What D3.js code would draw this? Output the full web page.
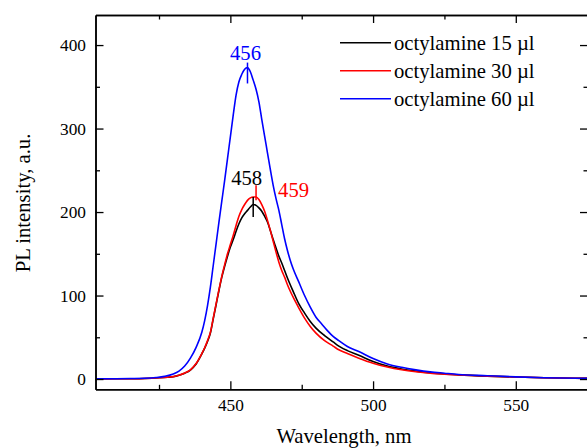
<!DOCTYPE html>
<html>
<head>
<meta charset="utf-8">
<script src="https://cdn.jsdelivr.net/npm/d3@7"></script>
<style>
  html, body { margin: 0; padding: 0; background: #fff; }
  svg { display: block; }
  text { font-family: "Liberation Serif", "Times New Roman", serif; }
</style>
</head>
<body>
<svg id="chart" width="587" height="448"></svg>
<script>
// PL spectra: wavelength (nm) and intensity (a.u.) for each octylamine volume
const wl15 = [403, 410, 415, 420, 425, 428, 430, 432, 434, 436, 438, 440, 441, 442, 443, 444, 445, 446, 447, 448, 449, 450, 451, 452, 453, 454, 455, 456, 457, 458, 459, 460, 461, 462, 463, 464, 465, 466, 467, 468, 469, 470, 472, 474, 476, 478, 480, 483, 486, 488, 491, 495, 500, 505, 510, 515, 520, 525, 530, 540, 550, 560, 575.3];
const pl15 = [0.2, 0.3, 0.4, 0.7, 1.5, 2.2, 2.8, 4.5, 7, 10.8, 18, 30, 37, 45, 55, 72, 89, 106, 122, 135, 147, 158, 167, 177, 186, 193, 198, 202, 206, 209, 208, 205, 201, 195, 188, 178, 167, 157, 147, 139, 130, 121, 105, 90, 79, 69, 61, 52, 44.5, 39.5, 34, 28.5, 21, 15.5, 12, 9.5, 7.5, 6, 5, 3.5, 2.4, 1.6, 0.8];

const wl30 = [403, 410, 415, 420, 425, 428, 430, 432, 434, 436, 438, 440, 441, 442, 443, 444, 445, 446, 447, 448, 449, 450, 451, 452, 453, 454, 455, 456, 457, 458, 459, 460, 461, 462, 463, 464, 465, 466, 467, 468, 469, 470, 472, 474, 476, 478, 480, 483, 486, 488, 491, 495, 500, 505, 510, 515, 520, 525, 530, 540, 550, 560, 575.3];
const pl30 = [0.2, 0.3, 0.4, 0.7, 1.5, 2.2, 2.9, 4.6, 7.2, 11, 18.5, 30.5, 37.5, 46, 56, 73, 90, 107, 123, 137, 150, 161, 172, 184, 195, 203, 209, 214, 217, 218, 218, 215, 209, 201, 190, 178, 165, 152, 140, 130, 122, 113, 98, 85, 73, 63, 55, 46, 39.5, 35, 30.5, 25, 19, 14.5, 11.2, 8.8, 7, 5.8, 4.8, 3.4, 2.4, 1.6, 0.8];

const wl60 = [403, 410, 415, 420, 424, 427, 430, 432, 434, 436, 438, 440, 441, 442, 443, 444, 445, 446, 447, 448, 449, 450, 451, 452, 453, 454, 455, 456, 457, 458, 459, 460, 461, 462, 463, 464, 465, 466, 467, 468, 469, 470, 471, 472, 474, 476, 478, 480, 482, 484, 486, 488, 491, 495, 500, 505, 510, 515, 520, 525, 530, 540, 550, 560, 575.3];
const pl60 = [0.3, 0.4, 0.6, 0.9, 1.8, 3.2, 6, 9.5, 15.5, 25, 38, 56, 70, 88, 110, 136, 162, 188, 213, 238, 264, 290, 316, 340, 356, 365, 371, 373, 368, 358, 347, 332, 311, 291, 271, 251, 232, 216, 202, 185, 168, 154, 142, 132, 116, 100, 86, 74, 66, 58, 51, 46, 39, 33, 24.5, 18, 14, 11, 8.6, 7, 5.5, 4, 2.6, 1.6, 0.8];

const seriesNames = ["octylamine 15 \u00b5l", "octylamine 30 \u00b5l", "octylamine 60 \u00b5l"];
const seriesColors = ["#000000", "#ff0000", "#0000ff"];

// Peak positions (nm) with their intensities
const peakWl = [458, 459, 456];
const peakPl = [209, 218, 373];
const peakLabels = ["458", "459", "456"];

// Axis ticks
const xMajor = [450, 500, 550];
const xMinor = [425, 475, 525, 575];
const yMajor = [0, 100, 200, 300, 400];
const yMinor = [50, 150, 250, 350];

const svg = d3.select("#chart");
const plotLeft = 95.5, plotRight = 588, plotTop = 15, plotBottom = 389.3;
const tickFont = 17.3, labelFont = 20.7;

const x = d3.scaleLinear().domain([402.75, 575.3]).range([plotLeft, plotRight]);
const y = d3.scaleLinear().domain([-12.3, 436]).range([plotBottom, plotTop]);

svg.append("defs").append("clipPath").attr("id", "plotclip")
  .append("rect").attr("x", plotLeft).attr("y", plotTop)
  .attr("width", plotRight - plotLeft).attr("height", plotBottom - plotTop);

const series = [
  { wl: wl15, pl: pl15 },
  { wl: wl30, pl: pl30 },
  { wl: wl60, pl: pl60 }
];

const line = d3.line()
  .x(d => x(d[0]))
  .y(d => y(d[1]))
  .curve(d3.curveMonotoneX);

const plot = svg.append("g").attr("clip-path", "url(#plotclip)");
series.forEach((s, i) => {
  plot.append("path")
    .datum(s.wl.map((w, k) => [w, s.pl[k]]))
    .attr("fill", "none")
    .attr("stroke", seriesColors[i])
    .attr("stroke-width", 1.6)
    .attr("stroke-linejoin", "round")
    .attr("d", line);
});

// Frame axes with inward ticks
function axisStyle(g) {
  g.select(".domain").attr("stroke", "#000").attr("stroke-width", 1.5);
  g.selectAll(".tick line").attr("stroke", "#000").attr("stroke-width", 1.3);
  g.selectAll(".tick text").attr("font-size", tickFont).attr("font-family", "Liberation Serif").attr("fill", "#000");
}

const fmt = d3.format("d");
// bottom
svg.append("g").attr("transform", `translate(0,${plotBottom})`)
  .call(d3.axisBottom(x).tickValues(xMajor).tickSizeInner(-8).tickSizeOuter(0).tickPadding(9).tickFormat(fmt))
  .call(axisStyle);
svg.append("g").attr("transform", `translate(0,${plotBottom})`)
  .call(d3.axisBottom(x).tickValues(xMinor).tickSizeInner(-4.5).tickSizeOuter(0).tickFormat(""))
  .call(axisStyle);
// top
svg.append("g").attr("transform", `translate(0,${plotTop})`)
  .call(d3.axisTop(x).tickValues(xMajor).tickSizeInner(-8).tickSizeOuter(0).tickFormat(""))
  .call(axisStyle);
svg.append("g").attr("transform", `translate(0,${plotTop})`)
  .call(d3.axisTop(x).tickValues(xMinor).tickSizeInner(-4.5).tickSizeOuter(0).tickFormat(""))
  .call(axisStyle);
// left
svg.append("g").attr("transform", `translate(${plotLeft},0)`)
  .call(d3.axisLeft(y).tickValues(yMajor).tickSizeInner(-8).tickSizeOuter(0).tickPadding(9.5).tickFormat(fmt))
  .call(axisStyle);
svg.append("g").attr("transform", `translate(${plotLeft},0)`)
  .call(d3.axisLeft(y).tickValues(yMinor).tickSizeInner(-4.5).tickSizeOuter(0).tickFormat(""))
  .call(axisStyle);
// right
svg.append("g").attr("transform", `translate(${plotRight},0)`)
  .call(d3.axisRight(y).tickValues(yMajor).tickSizeInner(-8).tickSizeOuter(0).tickFormat(""))
  .call(axisStyle);
svg.append("g").attr("transform", `translate(${plotRight},0)`)
  .call(d3.axisRight(y).tickValues(yMinor).tickSizeInner(-4.5).tickSizeOuter(0).tickFormat(""))
  .call(axisStyle);

// Axis titles
svg.append("text")
  .attr("x", 344).attr("y", 443)
  .attr("text-anchor", "middle").attr("font-size", labelFont).attr("fill", "#000")
  .text("Wavelength, nm");
svg.append("text")
  .attr("transform", "translate(30,203) rotate(-90)")
  .attr("text-anchor", "middle").attr("font-size", labelFont).attr("fill", "#000")
  .text("PL intensity, a.u.");

// Peak markers and labels
const markerSpan = [[194, 218], [214, 232], [354, 379]];
const labelPos = [
  { dx: -6.5, anchor: "middle", yv: 232 },
  { dx: 22, anchor: "start", yv: 218 },
  { dx: -2, anchor: "middle", yv: 382 }
];
peakWl.forEach((w, i) => {
  svg.append("line")
    .attr("x1", x(w)).attr("x2", x(w))
    .attr("y1", y(markerSpan[i][0])).attr("y2", y(markerSpan[i][1]))
    .attr("stroke", seriesColors[i]).attr("stroke-width", 1.5);
  svg.append("text")
    .attr("x", x(w) + labelPos[i].dx)
    .attr("y", y(labelPos[i].yv))
    .attr("text-anchor", labelPos[i].anchor)
    .attr("font-size", labelFont)
    .attr("fill", seriesColors[i])
    .text(peakLabels[i]);
});

// Legend
const legend = svg.append("g");
seriesNames.forEach((name, i) => {
  const ly = 42.7 + i * 28;
  legend.append("line")
    .attr("x1", 340).attr("x2", 391)
    .attr("y1", ly).attr("y2", ly)
    .attr("stroke", seriesColors[i]).attr("stroke-width", 1.6);
  legend.append("text")
    .attr("x", 394).attr("y", ly + 6.8)
    .attr("font-size", labelFont).attr("fill", "#000")
    .text(name);
});
</script>
</body>
</html>
